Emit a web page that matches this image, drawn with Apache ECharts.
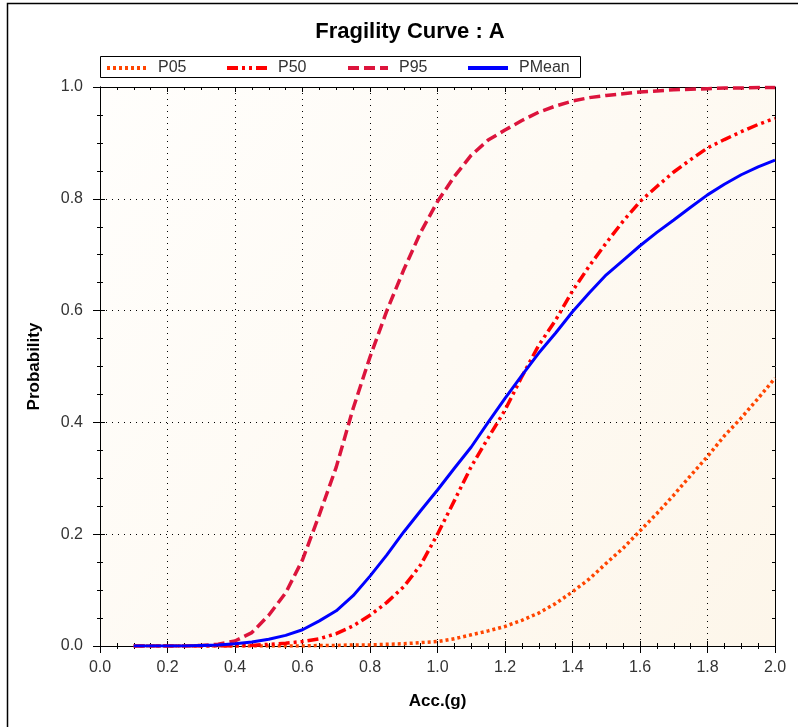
<!DOCTYPE html>
<html>
<head>
<meta charset="utf-8">
<script src="https://cdn.jsdelivr.net/npm/echarts@6/dist/echarts.min.js"></script>
<style>html,body{margin:0;padding:0;background:#fff;}#c{width:798px;height:727px;}</style>
</head>
<body>
<div id="c"></div>
<script>
const titleText = 'Fragility Curve : A';
const xName = 'Acc.(g)';
const yName = 'Probability';
const seriesNames = ['P05', 'P50', 'P95', 'PMean'];
const acc = [0.10,0.15,0.20,0.25,0.30,0.35,0.40,0.45,0.50,0.55,0.60,0.65,0.70,0.75,0.80,0.85,0.90,0.95,1.00,1.05,1.10,1.15,1.20,1.25,1.30,1.35,1.40,1.45,1.50,1.55,1.60,1.65,1.70,1.75,1.80,1.85,1.90,1.95,2.00];
const p05 = [0,0,0,0,0,0,0,0,0,0,0,0.001,0.001,0.002,0.002,0.003,0.004,0.006,0.008,0.013,0.020,0.027,0.035,0.046,0.059,0.076,0.097,0.120,0.148,0.175,0.206,0.237,0.270,0.305,0.339,0.376,0.408,0.443,0.479];
const p50 = [0,0,0,0,0,0,0,0.001,0.003,0.005,0.008,0.013,0.022,0.036,0.055,0.078,0.106,0.145,0.200,0.260,0.321,0.372,0.422,0.482,0.538,0.583,0.635,0.680,0.721,0.760,0.795,0.822,0.848,0.870,0.891,0.906,0.920,0.933,0.944];
const p95 = [0,0,0,0,0.001,0.003,0.009,0.024,0.055,0.095,0.154,0.235,0.320,0.425,0.517,0.600,0.673,0.740,0.795,0.840,0.878,0.905,0.923,0.940,0.955,0.966,0.975,0.981,0.985,0.988,0.991,0.993,0.995,0.996,0.997,0.998,0.998,0.999,0.999];
const pMean = [0,0,0,0,0.001,0.002,0.004,0.007,0.012,0.019,0.029,0.045,0.063,0.090,0.125,0.163,0.204,0.242,0.279,0.318,0.356,0.400,0.443,0.484,0.524,0.560,0.598,0.632,0.664,0.690,0.716,0.740,0.762,0.785,0.807,0.826,0.843,0.857,0.869];

const values = [p05, p50, p95, pMean];
const colors = ['#ff4500', '#ff0000', '#dc143c', '#0000ff'];
const dashes = [[3,3], [11,4,3,4,3,4], [11,5], 'solid'];
const widths = [3.5, 3.5, 3.5, 3];

const font = 'Arial, "Liberation Sans", sans-serif';
const chart = echarts.init(document.getElementById('c'), null, {renderer: 'canvas'});

function baseAxis(extra) {
  return Object.assign({
    type: 'value',
    axisLine: {show: true, onZero: false, lineStyle: {color: '#000', width: 1}},
    axisTick: {show: true, inside: false, length: 7, lineStyle: {color: '#000'}},
    minorTick: {show: true, splitNumber: 4, length: 3, lineStyle: {color: '#000'}},
    axisLabel: {show: false},
    splitLine: {show: false},
    minorSplitLine: {show: false}
  }, extra);
}
const inTick = {show: true, inside: true, length: 5, lineStyle: {color: '#000'}};
const inMinor = {show: true, splitNumber: 4, length: 3, lineStyle: {color: '#000'}};

const xAxes = [
  baseAxis({position: 'bottom', min: 0, max: 2, interval: 0.2,
    name: xName, nameLocation: 'middle', nameGap: 47,
    nameTextStyle: {fontFamily: font, fontWeight: 'bold', fontSize: 17, color: '#000'},
    axisLabel: {show: true, margin: 14, fontFamily: font, fontSize: 16, color: '#333',
      formatter: v => v.toFixed(1)},
    splitLine: {show: true, lineStyle: {color: '#000', type: [1, 5], width: 1}}}),
  baseAxis({position: 'bottom', min: 0, max: 2, interval: 0.2, axisTick: inTick, minorTick: inMinor}),
  baseAxis({position: 'top', min: 0, max: 2, interval: 0.2, axisTick: inTick, minorTick: inMinor})
];
const yAxes = [
  baseAxis({position: 'left', min: 0, max: 1, interval: 0.2,
    name: yName, nameLocation: 'middle', nameGap: 57, nameRotate: 90,
    nameTextStyle: {fontFamily: font, fontWeight: 'bold', fontSize: 17, color: '#000'},
    axisLabel: {show: true, margin: 17, fontFamily: font, fontSize: 16, color: '#333',
      formatter: v => v.toFixed(1)},
    splitLine: {show: true, lineStyle: {color: '#000', type: [1, 5], width: 1}}}),
  baseAxis({position: 'left', min: 0, max: 1, interval: 0.2, axisTick: inTick, minorTick: inMinor}),
  baseAxis({position: 'right', min: 0, max: 1, interval: 0.2, axisTick: inTick, minorTick: inMinor})
];

const legendLefts = [105, 225, 346, 466];
const legends = seriesNames.map((n, i) => ({
  data: [n], left: legendLefts[i], top: 60, itemWidth: 40, itemHeight: 12, itemGap: 0,
  itemStyle: {opacity: 0, borderWidth: 0},
  lineStyle: {width: 4},
  textStyle: {fontFamily: font, fontSize: 16, color: '#333', padding: [0, 0, 0, 6]},
  selectedMode: false, padding: 0
}));

const series = seriesNames.map((n, i) => ({
  name: n, type: 'line', xAxisIndex: 0, yAxisIndex: 0,
  data: acc.map((x, k) => [x, values[i][k]]),
  symbol: 'none', smooth: false,
  lineStyle: {color: colors[i], width: widths[i], type: dashes[i], cap: 'butt'},
  itemStyle: {color: colors[i]}
}));

chart.setOption({
  animation: false,
  backgroundColor: '#fff',
  title: {text: titleText, left: 405, textAlign: 'center', top: 16,
    textStyle: {fontFamily: font, fontWeight: 'bold', fontSize: 22, color: '#000'}},
  legend: legends,
  grid: {left: 100, right: 23, top: 87, bottom: 81, show: true, borderWidth: 0,
    backgroundColor: new echarts.graphic.LinearGradient(0, 0, 1, 1, [
      {offset: 0, color: '#fffefc'}, {offset: 1, color: '#fdf6ea'}])},
  xAxis: xAxes,
  yAxis: yAxes,
  series: series,
  graphic: [
    {type: 'rect', shape: {x: 100.5, y: 56.5, width: 480, height: 21}, style: {fill: 'none', stroke: '#000', lineWidth: 1}, z: 0},
    {type: 'polyline', shape: {points: [[7.5, 727], [7.5, 3.5], [798, 3.5]]}, style: {fill: 'none', stroke: '#000', lineWidth: 1.5}}
  ]
});
</script>
</body>
</html>
